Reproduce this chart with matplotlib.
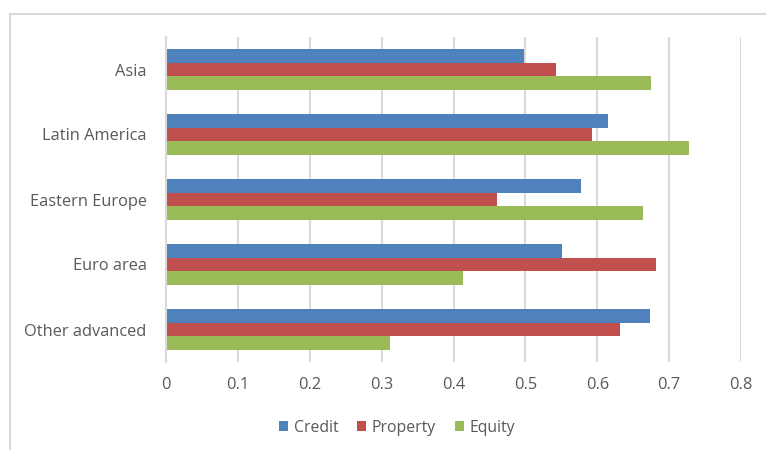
import matplotlib.pyplot as plt
import matplotlib.patches as mpatches
import numpy as np

# data
regions = ['Asia', 'Latin America', 'Eastern Europe', 'Euro area', 'Other advanced']
credit = [0.498, 0.615, 0.578, 0.551, 0.674]
property_ = [0.542, 0.592, 0.460, 0.682, 0.631]
equity = [0.675, 0.728, 0.664, 0.413, 0.311]
xticks = [0, 0.1, 0.2, 0.3, 0.4, 0.5, 0.6, 0.7, 0.8]
xticklabels = ['0', '0.1', '0.2', '0.3', '0.4', '0.5', '0.6', '0.7', '0.8']

plt.rcParams['font.family'] = ['Open Sans', 'DejaVu Sans']
txt = '#595959'
grid = '#d9d9d9'

fig = plt.figure(figsize=(7.66, 4.5), dpi=100)
ax = fig.add_axes([166/766, 1 - 362/450, (741 - 166)/766, (362 - 37)/450])

# outer chart border (cut off at right/bottom in the reference)
fig.patches.append(mpatches.Rectangle((10/766, -0.1), 1.1, 1 - 14/450 + 0.1,
                                      transform=fig.transFigure, fill=False,
                                      edgecolor=grid, linewidth=1.5))

y = np.arange(len(regions))
h = 0.207
ax.barh(y - h, credit, h, color='#4F81BD', label='Credit')
ax.barh(y, property_, h, color='#C0504D', label='Property')
ax.barh(y + h, equity, h, color='#9BBB59', label='Equity')

ax.set_ylim(len(regions) - 0.5, -0.5)
ax.set_xlim(0, 0.8)
ax.set_yticks(y)
ax.set_yticklabels(regions, color=txt, fontsize=11.8)
ax.set_xticks(xticks)
ax.set_xticklabels(xticklabels, color=txt, fontsize=11.8)
ax.tick_params(length=0, pad=11)
ax.tick_params(axis='y', pad=14)
ax.xaxis.grid(True, color=grid, linewidth=1.5)
ax.set_axisbelow(True)
for s in ['top', 'right', 'bottom']:
    ax.spines[s].set_visible(False)
ax.spines['left'].set_color(grid)
ax.spines['left'].set_linewidth(1.5)

fig.legend(loc='center', bbox_to_anchor=(397/766, 1 - 428/450), ncol=3,
           frameon=False, fontsize=11.3, labelcolor=txt, handlelength=0.6,
           handleheight=0.6, handletextpad=0.35, columnspacing=1.2)

fig.savefig('out.png', dpi=100)
